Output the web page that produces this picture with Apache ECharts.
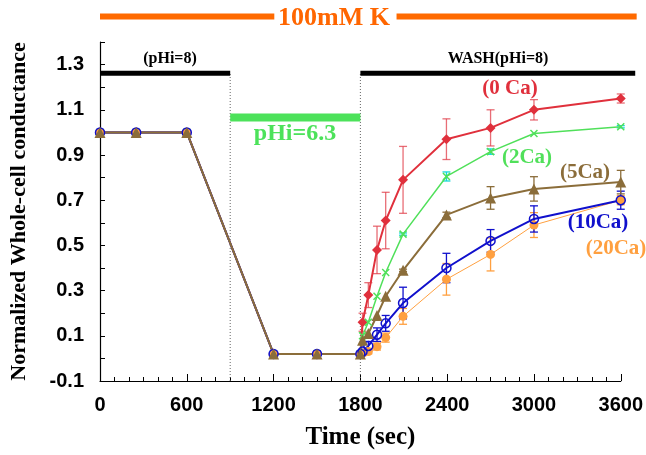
<!DOCTYPE html>
<html>
<head>
<meta charset="utf-8">
<script src="https://cdn.jsdelivr.net/npm/echarts@6/dist/echarts.min.js"></script>
<style>
html, body { margin: 0; background: #fff; }
#chart { width: 646px; height: 455px; }
</style>
</head>
<body>
<div id="chart"></div>
<script>
// time points (sec): before wash, then wash
const timePre = [0, 250, 600, 1200, 1500, 1800];
const timeWash = [1815, 1855, 1915, 1975, 2095, 2395, 2700, 3000, 3600];
const times = timePre.concat(timeWash);

// normalized conductance for each Ca concentration
const ca0 = [1.0, 1.0, 1.0, 0.02, 0.02, 0.02, 0.16, 0.28, 0.48, 0.61, 0.79, 0.97, 1.02, 1.10, 1.15];
const ca2 = [1.0, 1.0, 1.0, 0.02, 0.02, 0.02, 0.10, 0.16, 0.275, 0.38, 0.55, 0.805, 0.915, 0.995, 1.025];
const ca5 = [1.0, 1.0, 1.0, 0.02, 0.02, 0.02, 0.08, 0.11, 0.19, 0.275, 0.39, 0.635, 0.71, 0.75, 0.78];
const ca10 = [1.0, 1.0, 1.0, 0.02, 0.02, 0.02, 0.03, 0.055, 0.105, 0.155, 0.245, 0.40, 0.52, 0.617, 0.70];
const ca20 = [1.0, 1.0, 1.0, 0.02, 0.02, 0.02, 0.022, 0.03, 0.052, 0.092, 0.186, 0.35, 0.46, 0.59, 0.70];

// error bars (+/-) for the wash points only
const ca0Err = [0.04, 0.055, 0.105, 0.125, 0.148, 0.09, 0.08, 0.045, 0.02];
const ca2Err = [0, 0, 0, 0, 0.005, 0.02, 0.012, 0, 0.005];
const ca5Err = [0, 0, 0, 0, 0.005, 0.012, 0.05, 0.054, 0.052];
const ca10Err = [0.01, 0.02, 0.03, 0.035, 0.07, 0.065, 0.05, 0.058, 0.04];
const ca20Err = [0.01, 0.01, 0.015, 0.02, 0.035, 0.07, 0.073, 0.055, 0.02];

const xTicks = [0, 600, 1200, 1800, 2400, 3000, 3600];

const serif = "'Liberation Serif', 'Times New Roman', serif";
const sans = "'Liberation Sans', Arial, sans-serif";

const chart = echarts.init(document.getElementById('chart'));

function pairs (values) {
  return times.map((t, i) => [t, values[i]]);
}

function lineSeries (name, values, color, symbol, size, width, filled) {
  return {
    name: name,
    type: 'line',
    data: pairs(values),
    symbol: symbol,
    symbolSize: size,
    showAllSymbol: true,
    lineStyle: { color: color, width: width },
    itemStyle: filled
      ? { color: color, borderWidth: 0 }
      : { color: 'rgba(0,0,0,0)', borderColor: color, borderWidth: 1.5 },
    emphasis: { disabled: true },
    z: 3
  };
}

function errSeries (values, errs, color) {
  const data = [];
  timeWash.forEach((t, i) => {
    const v = values[timePre.length + i];
    if (errs[i] > 0) data.push([t, v - errs[i], v + errs[i]]);
  });
  return {
    type: 'custom',
    data: data,
    z: 2,
    silent: true,
    renderItem: function (params, api) {
      const top = api.coord([api.value(0), api.value(2)]);
      const bot = api.coord([api.value(0), api.value(1)]);
      const w = 4;
      const style = { stroke: color, lineWidth: 1.3 };
      return {
        type: 'group',
        children: [
          { type: 'line', shape: { x1: top[0], y1: top[1], x2: bot[0], y2: bot[1] }, style: style },
          { type: 'line', shape: { x1: top[0] - w, y1: top[1], x2: top[0] + w, y2: top[1] }, style: style },
          { type: 'line', shape: { x1: bot[0] - w, y1: bot[1], x2: bot[0] + w, y2: bot[1] }, style: style }
        ]
      };
    }
  };
}

const xPath = 'path://M0,0L10,10M10,0L0,10';

chart.setOption({
  animation: false,
  grid: { left: 98, right: 23, top: 42, bottom: 73 },
  xAxis: {
    type: 'value',
    min: 0,
    max: 3600,
    interval: 600,
    name: 'Time (sec)',
    nameLocation: 'middle',
    nameGap: 44,
    nameTextStyle: { fontFamily: serif, fontWeight: 'bold', fontSize: 25, color: '#000' },
    axisLine: { onZero: false, lineStyle: { color: '#000', width: 1.2 } },
    axisTick: { inside: true, length: 7, lineStyle: { color: '#000' } },
    minorTick: { show: true, splitNumber: 6, length: 4, lineStyle: { color: '#000' } },
    splitLine: { show: false },
    axisLabel: {
      margin: 14,
      fontFamily: sans, fontWeight: 'bold', fontSize: 20, color: '#000',
      formatter: function (v) { return xTicks.indexOf(v) >= 0 ? String(v) : ''; }
    }
  },
  yAxis: {
    type: 'value',
    min: -0.1,
    max: 1.4,
    interval: 0.1,
    name: 'Normalized Whole-cell conductance',
    nameLocation: 'middle',
    nameGap: 70,
    nameTextStyle: { fontFamily: serif, fontWeight: 'bold', fontSize: 22, color: '#000' },
    axisLine: { show: true, onZero: false, lineStyle: { color: '#000', width: 1.2 } },
    axisTick: { inside: true, length: 5, lineStyle: { color: '#000' } },
    splitLine: { show: false },
    axisLabel: {
      margin: 16,
      fontFamily: sans, fontWeight: 'bold', fontSize: 20, color: '#000',
      formatter: function (v) {
        const k = Math.round(v * 10);
        return Math.abs(k) % 2 === 1 ? (k / 10).toFixed(1) : '';
      }
    }
  },
  series: [
    errSeries(ca0, ca0Err, 'rgba(224,60,72,0.75)'),
    errSeries(ca2, ca2Err, '#18d8d8'),
    errSeries(ca20, ca20Err, '#ffa040'),
    errSeries(ca10, ca10Err, '#1010cc'),
    errSeries(ca5, ca5Err, '#8b6d3a'),
    lineSeries('0 Ca', ca0, '#e0303c', 'diamond', 10, 2, true),
    lineSeries('2Ca', ca2, '#50e05a', xPath, 7, 1.5, false),
    lineSeries('20Ca', ca20, '#ffa040', 'circle', 9, 1, true),
    lineSeries('10Ca', ca10, '#1010cc', 'circle', 9, 2, false),
    lineSeries('5Ca', ca5, '#8b6d3a', 'triangle', 11, 2, true)
  ]
});

// annotations: phases of the protocol
const px = (t, v) => chart.convertToPixel({ gridIndex: 0 }, [t, v]);
function hLine (t0, t1, v, color, w, dash) {
  const a = px(t0, v), b = px(t1, v);
  return { type: 'line', z: 10, silent: true, shape: { x1: a[0], y1: a[1], x2: b[0], y2: b[1] }, style: { stroke: color, lineWidth: w, lineDash: dash } };
}
function vLine (t, v0, v1) {
  const a = px(t, v0), b = px(t, v1);
  return { type: 'line', z: 1, silent: true, shape: { x1: a[0], y1: a[1], x2: b[0], y2: b[1] }, style: { stroke: '#666', lineWidth: 1, lineDash: [1, 2] } };
}
function label (text, x, y, color, size) {
  return {
    type: 'text', z: 11, silent: true, x: x, y: y,
    style: { text: text, fill: color, font: 'bold ' + size + 'px ' + serif, align: 'center', verticalAlign: 'middle' }
  };
}

chart.setOption({
  graphic: [
    hLine(0, 1205, 1.513, '#ff6a00', 6),
    hLine(2050, 3710, 1.513, '#ff6a00', 6),
    hLine(0, 900, 1.262, '#000', 5),
    hLine(1800, 3700, 1.262, '#000', 5),
    hLine(900, 1800, 1.066, '#4ce25a', 8),
    vLine(900, -0.1, 1.262),
    vLine(1800, -0.1, 1.262),
    label('100mM K', 334, 18, '#ff6600', 26),
    label('(pHi=8)', 170, 59, '#000', 16),
    label('WASH(pHi=8)', 498, 59, '#000', 16),
    label('pHi=6.3', 295, 134, '#4ce25a', 24),
    label('(0 Ca)', 510, 89, '#e0303c', 21),
    label('(2Ca)', 527, 158, '#50e05a', 21),
    label('(5Ca)', 585, 173, '#8b6d3a', 21),
    label('(10Ca)', 598, 223, '#1010cc', 21),
    label('(20Ca)', 616, 249, '#ffa040', 21)
  ]
});
</script>
</body>
</html>
